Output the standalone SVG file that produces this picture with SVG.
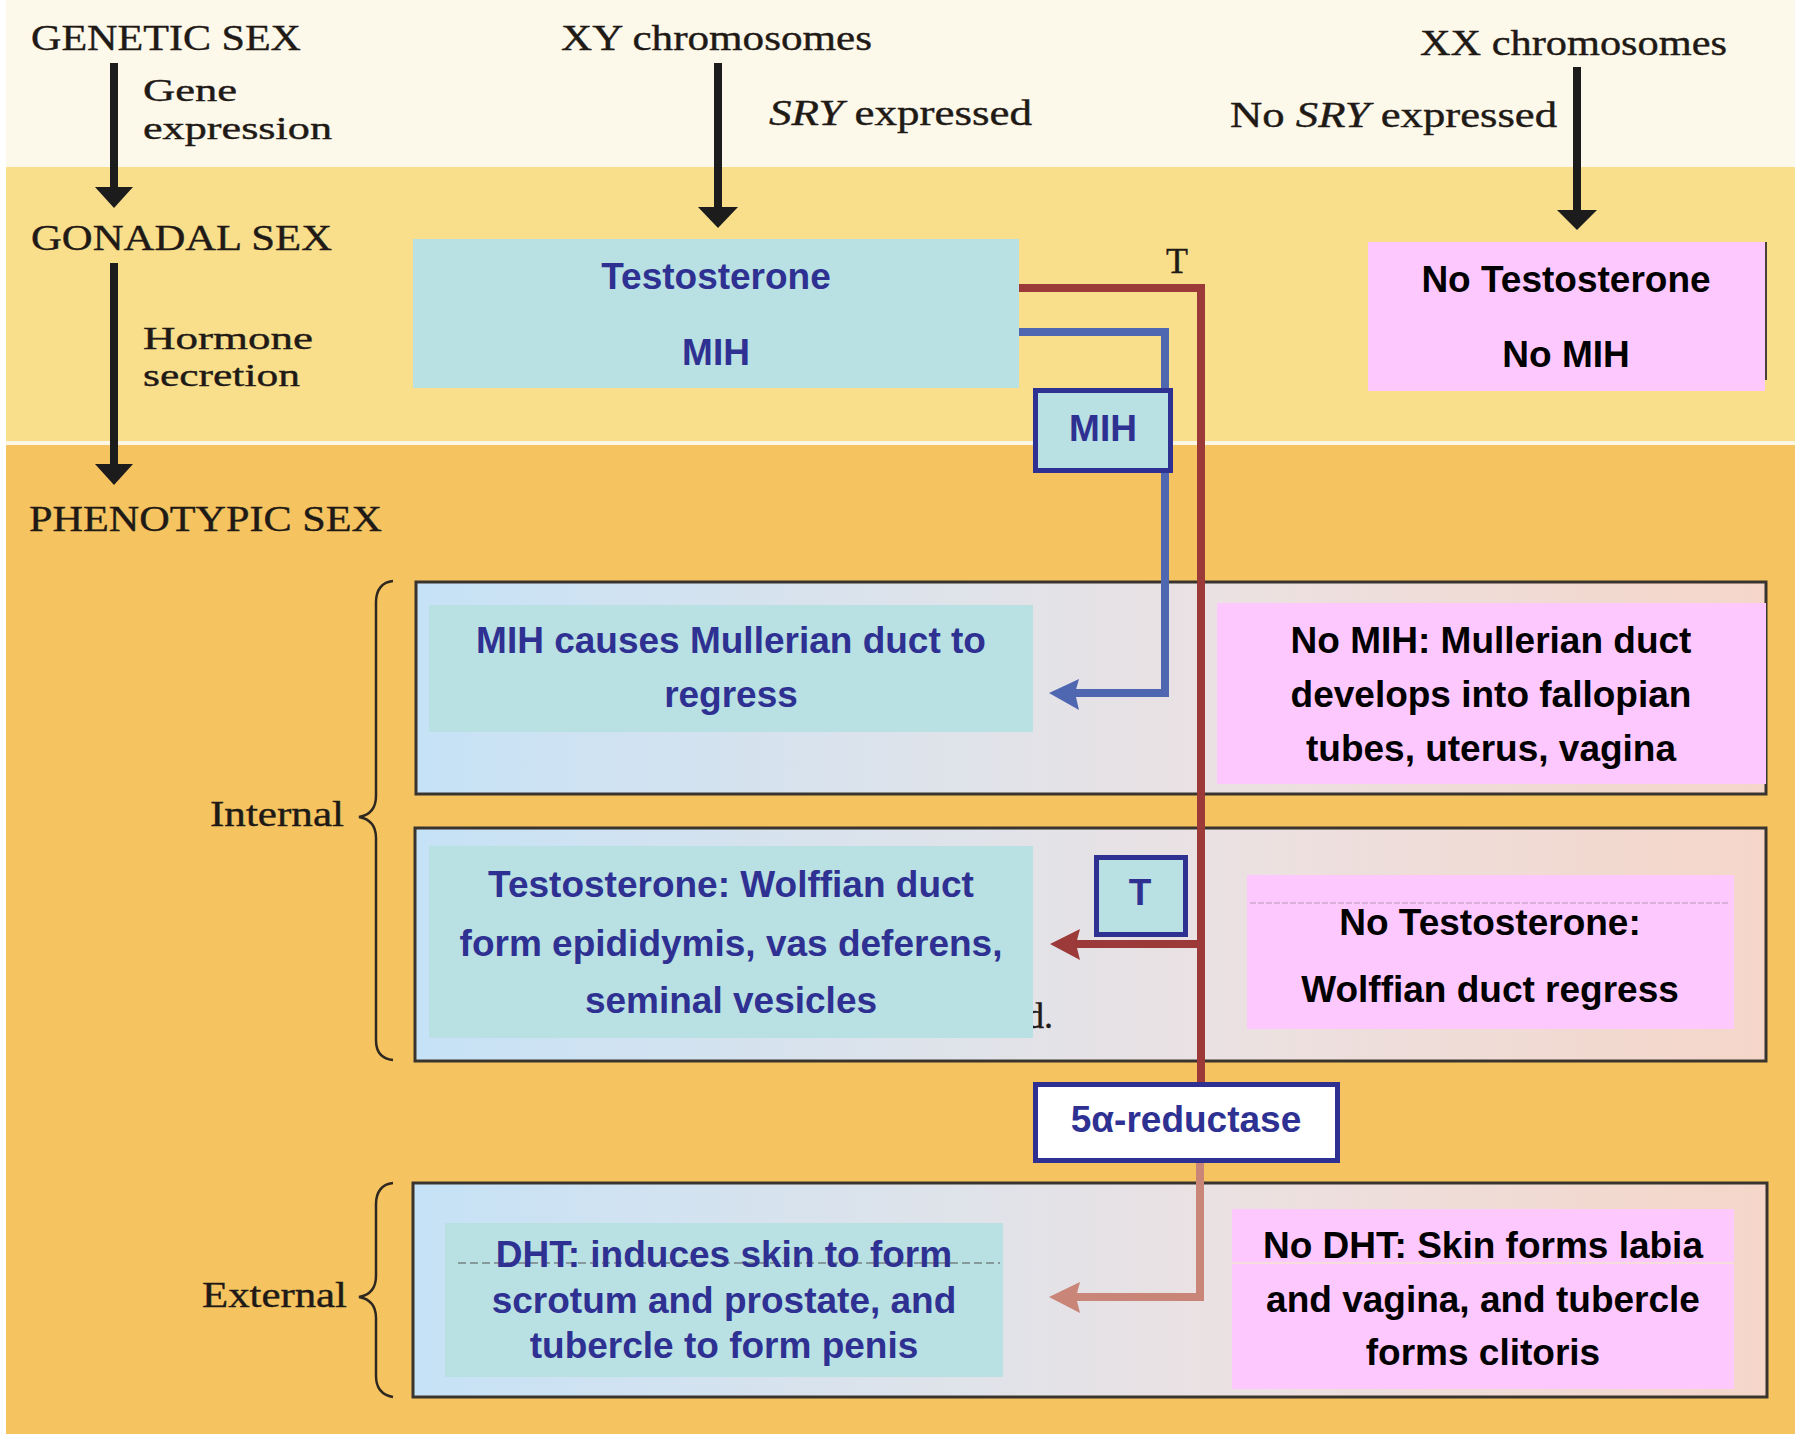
<svg xmlns="http://www.w3.org/2000/svg" width="1795" height="1434" viewBox="0 0 1795 1434">
<defs>
<style>
.serif{font-family:"Liberation Serif","Times New Roman",serif;fill:#1f1a16;stroke:#1f1a16;stroke-width:0.4;font-size:36px}
.small{font-size:32px}
.lbl{font-family:"Liberation Sans",Arial,sans-serif;font-weight:bold;font-size:37px;text-anchor:middle}
.blu{fill:#2e3192}
.blk{fill:#000}
.bluebox{fill:#b9e0e3}
.pinkbox{fill:#fdc8fd}
.frame{fill:url(#frameGrad);stroke:#3a342e;stroke-width:3}
.tag{stroke:#2e3192;stroke-width:5}
.shaft{stroke:#1c1c1c;stroke-width:8;fill:none}
.head{fill:#1c1c1c}
.brace{fill:none;stroke:#2e2820;stroke-width:2.5}
</style>
<linearGradient id="frameGrad" x1="0" y1="0" x2="1" y2="0">
<stop offset="0" stop-color="#c6e2f6"/>
<stop offset="0.4" stop-color="#dfe3ea"/>
<stop offset="0.6" stop-color="#ebe1e2"/>
<stop offset="1" stop-color="#f5d6c9"/>
</linearGradient>
</defs>

<g id="background">
<rect x="0" y="0" width="1795" height="1434" fill="#ffffff"/>
<rect x="6" y="0" width="1789" height="167" fill="#fcf8ea"/>
<rect x="6" y="167" width="1789" height="274" fill="#f9df8c"/>
<rect x="6" y="441" width="1789" height="4" fill="#fdf6e4"/>
<rect x="6" y="445" width="1789" height="989" fill="#f5c460"/>
</g>

<g id="frames">
<rect class="frame" x="416" y="582" width="1350" height="212"/>
<rect class="frame" x="415" y="828" width="1351" height="233"/>
<rect class="frame" x="413" y="1183" width="1354" height="214"/>
<path class="brace" d="M393,581 C382,582 376,590 376,602 L376,796 C376,808 370,815 359,817 C370,819 376,826 376,838 L376,1040 C376,1052 382,1059 393,1060"/>
<path class="brace" d="M393,1183 C382,1184 376,1192 376,1204 L376,1276 C376,1288 370,1295 359,1297 C370,1299 376,1306 376,1318 L376,1376 C376,1388 382,1395 393,1397"/>
</g>

<g id="side-labels">
<text class="serif" x="31" y="50" textLength="270" lengthAdjust="spacingAndGlyphs">GENETIC SEX</text>
<text class="serif small" x="143" y="101" textLength="94" lengthAdjust="spacingAndGlyphs">Gene</text>
<text class="serif small" x="143" y="139" textLength="189" lengthAdjust="spacingAndGlyphs">expression</text>
<text class="serif" x="31" y="250" textLength="301" lengthAdjust="spacingAndGlyphs">GONADAL SEX</text>
<text class="serif small" x="143" y="349" textLength="170" lengthAdjust="spacingAndGlyphs">Hormone</text>
<text class="serif small" x="143" y="386" textLength="157" lengthAdjust="spacingAndGlyphs">secretion</text>
<text class="serif" x="29" y="531" textLength="353" lengthAdjust="spacingAndGlyphs">PHENOTYPIC SEX</text>
<text class="serif" x="210" y="826" textLength="134" lengthAdjust="spacingAndGlyphs">Internal</text>
<text class="serif" x="202" y="1307" textLength="145" lengthAdjust="spacingAndGlyphs">External</text>
<text class="serif" x="561" y="50" textLength="311" lengthAdjust="spacingAndGlyphs">XY chromosomes</text>
<text class="serif" x="769" y="125" textLength="263" lengthAdjust="spacingAndGlyphs"><tspan font-style="italic">SRY</tspan> expressed</text>
<text class="serif" x="1420" y="55" textLength="307" lengthAdjust="spacingAndGlyphs">XX chromosomes</text>
<text class="serif" x="1230" y="127" textLength="327" lengthAdjust="spacingAndGlyphs">No <tspan font-style="italic">SRY</tspan> expressed</text>
<text class="serif" x="1177" y="273" text-anchor="middle" font-size="30">T</text>
<text class="serif" x="1026" y="1028" font-size="32" fill="#333" stroke="none">d.</text>
</g>

<g id="connectors">
<line class="shaft" x1="114" y1="63" x2="114" y2="190"/>
<polygon class="head" points="95,187 133,187 114,208"/>
<line class="shaft" x1="114" y1="263" x2="114" y2="467"/>
<polygon class="head" points="95,464 133,464 114,485"/>
<line class="shaft" x1="718" y1="63" x2="718" y2="210"/>
<polygon class="head" points="698,207 738,207 718,228"/>
<line class="shaft" x1="1577" y1="67" x2="1577" y2="213"/>
<polygon class="head" points="1557,210 1597,210 1577,230"/>
<polyline points="1019,288 1201,288 1201,1082" fill="none" stroke="#9c3a3a" stroke-width="8"/>
<polyline points="1201,944 1074,944" fill="none" stroke="#9c3a3a" stroke-width="8"/>
<polygon points="1050,944 1080,929 1076,944 1080,960" fill="#9c3a3a"/>
<polyline points="1019,332 1165,332 1165,693 1074,693" fill="none" stroke="#4f66b0" stroke-width="8"/>
<polygon points="1049,693 1079,679 1075,693 1079,710" fill="#4f66b0"/>
<polyline points="1200,1163 1200,1297 1074,1297" fill="none" stroke="#c98577" stroke-width="8"/>
<polygon points="1049,1297 1080,1282 1076,1297 1080,1313" fill="#c98577"/>
<line x1="1766" y1="242" x2="1766" y2="380" stroke="#4a4038" stroke-width="2"/>
</g>

<g id="testosterone-mih">
<rect class="bluebox" x="413" y="239" width="606" height="149"/>
<text class="lbl blu" x="716" y="289">Testosterone</text>
<text class="lbl blu" x="716" y="365">MIH</text>
</g>

<g id="no-testosterone-no-mih">
<rect class="pinkbox" x="1368" y="242" width="397" height="149"/>
<text class="lbl blk" x="1566" y="292">No Testosterone</text>
<text class="lbl blk" x="1566" y="367">No MIH</text>
</g>

<g id="mih-tag">
<rect class="bluebox tag" x="1035.5" y="390.5" width="135" height="80"/>
<text class="lbl blu" x="1103" y="441">MIH</text>
</g>

<g id="mullerian-regress">
<rect class="bluebox" x="429" y="605" width="604" height="127"/>
<text class="lbl blu" x="731" y="653">MIH causes Mullerian duct to</text>
<text class="lbl blu" x="731" y="707">regress</text>
</g>

<g id="mullerian-develops">
<rect class="pinkbox" x="1217" y="603" width="549" height="181"/>
<text class="lbl blk" x="1491" y="653">No MIH: Mullerian duct</text>
<text class="lbl blk" x="1491" y="707">develops into fallopian</text>
<text class="lbl blk" x="1491" y="761">tubes, uterus, vagina</text>
</g>

<g id="wolffian-forms">
<rect class="bluebox" x="429" y="846" width="604" height="192"/>
<text class="lbl blu" x="731" y="897">Testosterone: Wolffian duct</text>
<text class="lbl blu" x="731" y="956">form epididymis, vas deferens,</text>
<text class="lbl blu" x="731" y="1013">seminal vesicles</text>
</g>

<g id="t-tag">
<rect class="bluebox tag" x="1096.5" y="857.5" width="89" height="77"/>
<text class="lbl blu" x="1140" y="905">T</text>
</g>

<g id="wolffian-regress">
<rect class="pinkbox" x="1247" y="875" width="487" height="154"/>
<line x1="1250" y1="903" x2="1730" y2="903" stroke="#b99ab9" stroke-width="1" stroke-dasharray="6,2"/>
<text class="lbl blk" x="1490" y="935">No Testosterone:</text>
<text class="lbl blk" x="1490" y="1002">Wolffian duct regress</text>
</g>

<g id="reductase">
<rect class="tag" fill="#ffffff" x="1035.5" y="1084.5" width="302" height="76"/>
<text class="lbl blu" x="1186" y="1132">5α-reductase</text>
</g>

<g id="dht-male">
<rect class="bluebox" x="445" y="1223" width="558" height="154"/>
<line x1="458" y1="1263" x2="1000" y2="1263" stroke="#555" stroke-width="1" stroke-dasharray="8,4"/>
<text class="lbl blu" x="724" y="1267">DHT: induces skin to form</text>
<text class="lbl blu" x="724" y="1313">scrotum and prostate, and</text>
<text class="lbl blu" x="724" y="1358">tubercle to form penis</text>
</g>

<g id="no-dht-female">
<rect class="pinkbox" x="1232" y="1209" width="502" height="180"/>
<line x1="1232" y1="1263" x2="1734" y2="1263" stroke="#f3e4d0" stroke-width="1.5"/>
<text class="lbl blk" x="1483" y="1258">No DHT: Skin forms labia</text>
<text class="lbl blk" x="1483" y="1312">and vagina, and tubercle</text>
<text class="lbl blk" x="1483" y="1365">forms clitoris</text>
</g>
</svg>
